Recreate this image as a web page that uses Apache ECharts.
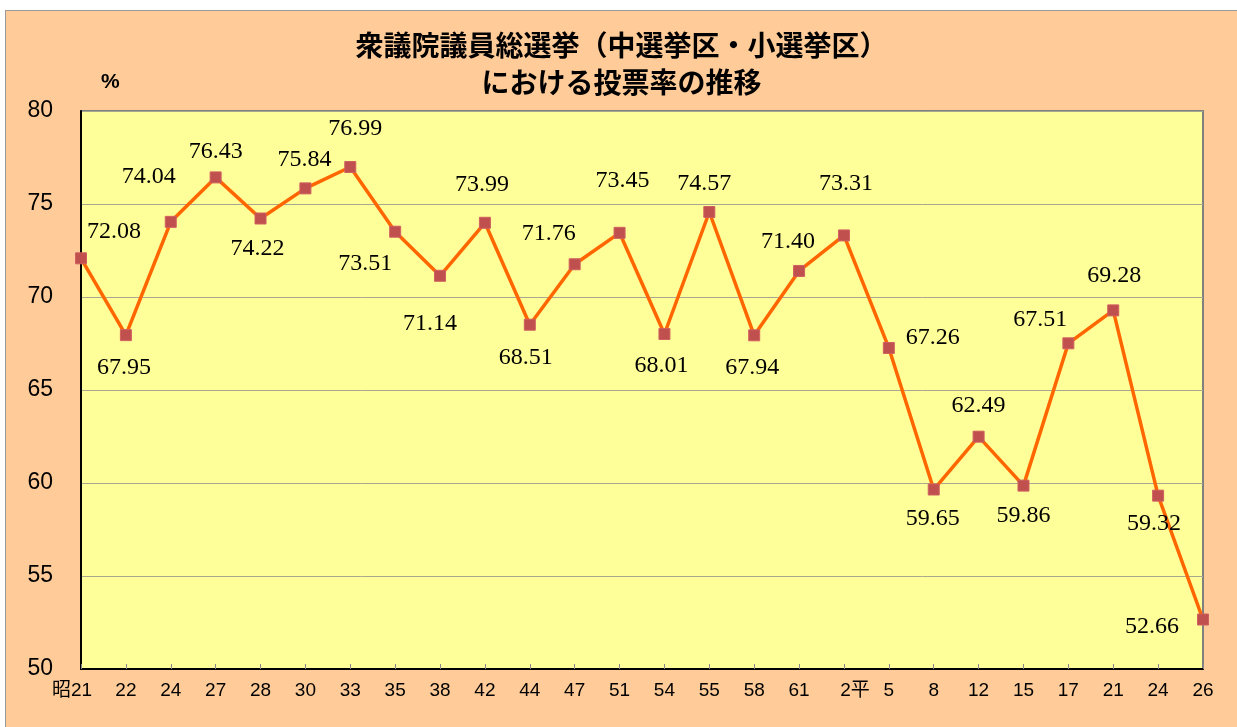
<!DOCTYPE html>
<html>
<head>
<meta charset="utf-8">
<script src="https://cdn.jsdelivr.net/npm/echarts@6/dist/echarts.min.js"></script>
<style>
  html, body { margin: 0; padding: 0; background: #fff; }
  #chart {
    position: absolute; left: 5px; top: 10px;
    width: 1231px; height: 716px;
    background: #FFCC99; border: 1px solid #999;
    border-right: none; border-bottom: none;
  }
</style>
</head>
<body>
<div id="chart"></div>
<script>
// 選挙年（昭和・平成）
var categories = ['昭21', '22', '24', '27', '28', '30', '33', '35', '38', '42', '44', '47', '51',
  '54', '55', '58', '61', '2平', '5', '8', '12', '15', '17', '21', '24', '26'];
// 投票率 (%)
var turnout = [72.08, 67.95, 74.04, 76.43, 74.22, 75.84, 76.99, 73.51, 71.14, 73.99, 68.51, 71.76, 73.45,
  68.01, 74.57, 67.94, 71.40, 73.31, 67.26, 59.65, 62.49, 59.86, 67.51, 69.28, 59.32, 52.66];
var yTicks = [50, 55, 60, 65, 70, 75, 80];

// ラベル位置（点からのずれ）
var labelOffsets = [[33, -27], [-2, 33], [-22, -45], [0, -26], [-3, 30], [-1, -29], [5, -38], [-30, 32],
  [-10, 48], [-3, -38], [-4, 33], [-26, -31], [3, -52], [-3, 32], [-5, -28], [-2, 32], [-11, -29],
  [2, -52], [44, -10], [-1, 29], [0, -31], [0, 30], [-28, -24], [1, -35], [-4, 28], [-51, 7]];

var labelFont = 'Liberation Sans Narrow, Liberation Sans, Noto Sans CJK JP';

var chart = echarts.init(document.getElementById('chart'));
chart.setOption({
  backgroundColor: '#FFCC99',
  animation: false,
  title: {
    text: '衆議院議員総選挙（中選挙区・小選挙区）\nにおける投票率の推移',
    left: 'center',
    top: 11,
    textStyle: {
      fontFamily: 'Noto Sans CJK JP',
      fontSize: 28,
      fontWeight: 'bold',
      color: '#000',
      lineHeight: 37
    }
  },
  graphic: [{
    type: 'text',
    left: 95,
    top: 61,
    style: { text: '%', font: 'bold 21px "Liberation Sans"', fill: '#000' }
  }, {
    type: 'rect',
    shape: { x: 75, y: 100, width: 1122, height: 558 },
    style: { fill: null, stroke: '#808080', lineWidth: 2 },
    z: -1,
    silent: true
  }, {
    type: 'rect',
    shape: { x: 75, y: 100, width: 1122, height: 558 },
    style: { fill: '#FFFF99' },
    z: -10,
    silent: true
  }],
  grid: { left: 75, right: 34, top: 100, bottom: 58 },
  xAxis: {
    type: 'category',
    data: categories,
    boundaryGap: false,
    axisLine: { lineStyle: { color: '#000', width: 2 } },
    axisTick: { inside: true, length: 5, interval: 0, lineStyle: { color: '#888' } },
    axisLabel: {
      interval: 0,
      margin: 12,
      fontSize: 19,
      fontFamily: labelFont,
      color: '#000',
      formatter: function (v) {
        if (v === '2平') return '{r|2平}';
        if (v === '昭21') return '{l|昭21}';
        return v;
      },
      rich: {
        r: { padding: [0, 0, 0, 22], fontSize: 19, fontFamily: labelFont },
        l: { padding: [0, 18, 0, 0], fontSize: 19, fontFamily: labelFont }
      }
    }
  },
  yAxis: {
    type: 'value',
    min: yTicks[0],
    max: yTicks[yTicks.length - 1],
    interval: 5,
    axisLine: { show: true, lineStyle: { color: '#000', width: 2 } },
    axisTick: { show: false },
    axisLabel: {
      margin: 28,
      fontSize: 23,
      fontFamily: labelFont,
      color: '#000'
    },
    splitLine: { lineStyle: { color: '#A8A890', width: 1 } }
  },
  series: [{
    type: 'line',
    data: turnout.map(function (v, i) {
      return {
        value: v,
        label: { offset: labelOffsets[i] }
      };
    }),
    symbol: 'rect',
    symbolSize: 11,
    lineStyle: { color: '#FF6600', width: 3.5 },
    itemStyle: { color: '#C0504D', borderColor: '#D06060', borderWidth: 1 },
    label: {
      show: true,
      position: 'inside',
      fontFamily: 'Liberation Serif, DejaVu Serif',
      fontSize: 24,
      color: '#000',
      formatter: function (p) { return p.value.toFixed(2); }
    },
    z: 3
  }]
});
</script>
</body>
</html>
